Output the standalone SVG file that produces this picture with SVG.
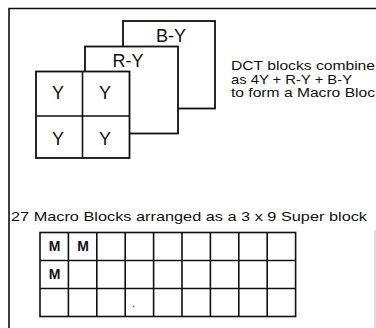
<svg xmlns="http://www.w3.org/2000/svg" width="376" height="328" viewBox="0 0 376 328">
  <style>
    .box { fill: #ffffff; stroke: #111111; stroke-width: 1.8; }
    .grid { fill: none; stroke: #111111; stroke-width: 1.6; }
    .lbl { font-family: "Liberation Sans", Arial, sans-serif; font-size: 18px; fill: #111111; text-anchor: middle; }
    .cap { font-family: "Liberation Sans", Arial, sans-serif; font-size: 13.5px; fill: #111111; }
    .m { font-family: "Liberation Sans", Arial, sans-serif; font-size: 14px; font-weight: bold; fill: #111111; text-anchor: middle; }
  </style>
  <rect width="376" height="328" fill="#ffffff"/>
  <g id="frame" fill="none" stroke="#111111">
    <path d="M9 328 V8.5 H376" stroke-width="1.6"/>
    <path d="M375 230 V328" stroke="#bbbbbb" stroke-width="1"/>
  </g>
  <g id="block-by">
    <rect class="box" x="123" y="21" width="92" height="87.5"/>
    <text class="lbl" x="171" y="42">B-Y</text>
  </g>
  <g id="block-ry">
    <rect class="box" x="85" y="46.5" width="93" height="87"/>
    <text class="lbl" x="128" y="67">R-Y</text>
  </g>
  <g id="block-y">
    <rect class="box" x="36" y="71.5" width="93.5" height="86.5"/>
    <path class="grid" d="M82.5 71.5 V158 M36 116 H129.5" stroke-width="1.8"/>
    <text class="lbl" x="58" y="99">Y</text>
    <text class="lbl" x="105" y="99">Y</text>
    <text class="lbl" x="58" y="145">Y</text>
    <text class="lbl" x="105" y="145">Y</text>
  </g>
  <g id="caption-dct">
    <text class="cap" x="231" y="70" textLength="144" lengthAdjust="spacingAndGlyphs">DCT blocks combine</text>
    <text class="cap" x="231" y="83.5" textLength="121" lengthAdjust="spacingAndGlyphs">as 4Y + R-Y + B-Y</text>
    <text class="cap" x="231" y="97" textLength="144" lengthAdjust="spacingAndGlyphs">to form a Macro Bloc</text>
  </g>
  <g id="caption-super">
    <text class="cap" x="11" y="221" font-size="16" textLength="356" lengthAdjust="spacingAndGlyphs">27 Macro Blocks arranged as a 3 x 9 Super block</text>
  </g>
  <g id="super-block">
    <rect class="grid" x="40" y="232.5" width="255.6" height="84"/>
    <path class="grid" d="M40 260.5 H295.6 M40 288.5 H295.6
      M68.4 232.5 V316.5 M96.8 232.5 V316.5 M125.2 232.5 V316.5 M153.6 232.5 V316.5
      M182 232.5 V316.5 M210.4 232.5 V316.5 M238.8 232.5 V316.5 M267.2 232.5 V316.5"/>
    <text class="m" x="54.5" y="251">M</text>
    <text class="m" x="83" y="251">M</text>
    <text class="m" x="54.5" y="279">M</text>
    <circle cx="133.5" cy="306.5" r="0.8" fill="#555555"/>
  </g>
</svg>
